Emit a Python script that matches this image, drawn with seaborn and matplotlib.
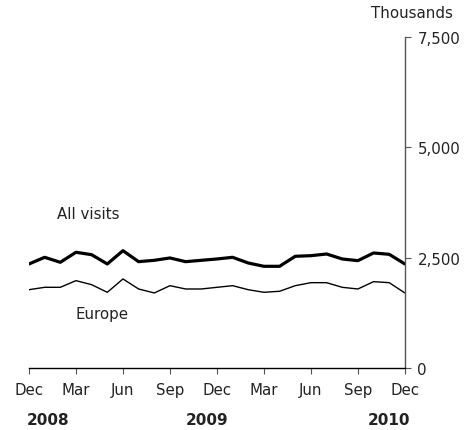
import pandas as pd
import seaborn as sns
import matplotlib.pyplot as plt

months = ["Dec", "Jan", "Feb", "Mar", "Apr", "May", "Jun", "Jul", "Aug", "Sep", "Oct", "Nov",
          "Dec", "Jan", "Feb", "Mar", "Apr", "May", "Jun", "Jul", "Aug", "Sep", "Oct", "Nov", "Dec"]
all_visits = [2357, 2508, 2395, 2622, 2567, 2357, 2658, 2409, 2440, 2493, 2409, 2440, 2470,
              2508, 2379, 2304, 2304, 2531, 2545, 2583, 2470, 2432, 2606, 2576, 2357]
europe = [1774, 1828, 1828, 1979, 1888, 1715, 2017, 1790, 1700, 1865, 1790, 1790, 1828,
          1865, 1774, 1715, 1738, 1865, 1933, 1933, 1828, 1790, 1956, 1933, 1700]
tick_months = ["Dec", "Mar", "Jun", "Sep", "Dec", "Mar", "Jun", "Sep", "Dec"]
years = ["2008", "2009", "2010"]
y_ticks = [0, 2500, 5000, 7500]

df = pd.DataFrame({"month": range(len(months)), "All visits": all_visits, "Europe": europe})

sns.set_theme(style="ticks")
plt.rcParams["font.family"] = ["DejaVu Sans"]

fig = plt.figure(figsize=(4.72, 4.31), dpi=100)
ax = fig.add_axes([0.0614, 0.1439, 0.7964, 0.7679])

sns.lineplot(data=df, x="month", y="All visits", color="black", linewidth=2.3, ax=ax)
sns.lineplot(data=df, x="month", y="Europe", color="black", linewidth=1.0, ax=ax)

ax.set_xlim(0, len(months) - 1)
ax.set_ylim(0, 7500)
ax.set_xticks(range(0, len(months), 3))
ax.set_xticklabels(tick_months)
ax.set_yticks(y_ticks)
ax.set_yticklabels([f"{v:,}" for v in y_ticks])
ax.yaxis.tick_right()
ax.set_xlabel("")
ax.set_ylabel("")

for s in ["top", "left"]:
    ax.spines[s].set_visible(False)
ax.spines["right"].set_color("#555555")
ax.spines["right"].set_linewidth(1.0)
ax.spines["bottom"].set_color("black")
ax.spines["bottom"].set_linewidth(1.0)
ax.tick_params(axis="y", direction="out", length=4, width=0.8, color="#555555",
               labelsize=10.8, pad=5, labelcolor="#222222")
ax.tick_params(axis="x", direction="out", length=4, width=0.8, color="#555555",
               labelsize=10.8, pad=6, labelcolor="#222222")

ax.text(1.8, 3490, "All visits", fontsize=10.8, va="center", ha="left", color="#222222")
ax.text(2.95, 1224, "Europe", fontsize=10.8, va="center", ha="left", color="#222222")

for x, yr in zip([1.2, 11.4, 23.0], years):
    ax.text(x, -0.155, yr, transform=ax.get_xaxis_transform(), fontsize=11,
            fontweight="bold", ha="center", va="center", color="#222222")

fig.text(453 / 472, 1 - 13 / 431, "Thousands", fontsize=10.8, ha="right", va="center",
         color="#222222")

fig.savefig("out.png", dpi=100)
